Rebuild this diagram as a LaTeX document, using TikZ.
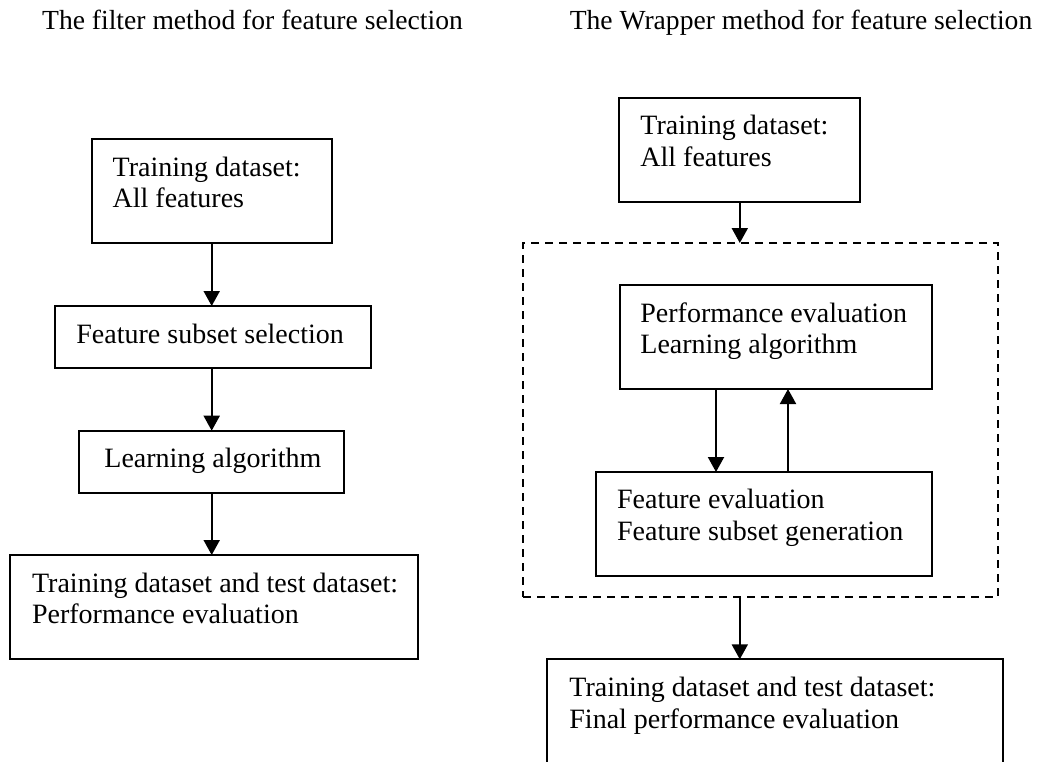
\documentclass[tikz,border=0pt]{standalone}
\usepackage{fontspec}
\setmainfont{Liberation Serif}
\usetikzlibrary{arrows.meta}

% strut that fixes the height of a text block's first line
\newcommand\firstline{\rule{0pt}{12pt}}

\tikzset{
  txtfont/.style={font=\fontsize{14pt}{15.65pt}\selectfont},
  box/.style 2 args={draw, line width=1pt, rectangle, inner sep=0pt, outer sep=0pt,
    anchor=north west, minimum width=#1*0.5pt, minimum height=#2*0.5pt},
  groupbox/.style 2 args={box={#1}{#2}, dash pattern=on 4pt off 3pt},
  boxtext/.style={txtfont, inner sep=0pt, anchor=north west, align=left},
  title/.style={font=\fontsize{13.8pt}{15.65pt}\selectfont, inner sep=0pt, anchor=base},
  arr/.style={line width=1pt, -{Triangle[length=7.5pt, width=8pt]}},
}

\begin{document}
\begin{tikzpicture}[x=0.5pt, y=-0.5pt]
\useasboundingbox (0,0) rectangle (1039,761);
\clip (0,0) rectangle (1039,761);

% headings
\node[title] (t1) at (252.5,29.5) {The filter method for feature selection};
\node[title] (t2) at (801,29.5) {The Wrapper method for feature selection};

% ---- filter method ----
\node[box={240}{104}] (L1) at (91.7,139.3) {};
\node[boxtext] (L1t) at ([shift={(20.6,12.8)}]L1.north west) {\firstline Training dataset:\\All features};

\node[box={316}{62}] (L2) at (55,306) {};
\node[boxtext] (L2t) at ([shift={(21,12.8)}]L2.north west) {\firstline Feature subset selection};

\node[box={265}{62}] (L3) at (79,430.7) {};
\node[boxtext] (L3t) at ([shift={(25,12.8)}]L3.north west) {\firstline Learning algorithm};

\node[box={408}{104}] (L4) at (10,555) {};
\node[boxtext] (L4t) at ([shift={(21.7,13.2)}]L4.north west) {\firstline Training dataset and test dataset:\\Performance evaluation};

\draw[arr] (L1.south) -- (L1.south |- L2.north);
\draw[arr] (L1.south |- L2.south) -- (L1.south |- L3.north);
\draw[arr] (L1.south |- L3.south) -- (L1.south |- L4.north);

% ---- wrapper method ----
\node[box={241}{104}] (R1) at (619.3,97.7) {};
\node[boxtext] (R1t) at ([shift={(20.7,12.8)}]R1.north west) {\firstline Training dataset:\\All features};

\node[groupbox={475}{353.7}] (W) at (523.3,243) {};

\node[box={312}{104}] (A) at (620,285) {};
\node[boxtext] (At) at ([shift={(20,12.7)}]A.north west) {\firstline Performance evaluation\\Learning algorithm};

\node[box={336}{104}] (B) at (596,472) {};
\node[boxtext] (Bt) at ([shift={(20.7,12.5)}]B.north west) {\firstline Feature evaluation\\Feature subset generation};

\node[box={456}{140}] (F) at (547,659.3) {};
\node[boxtext] (Ft) at ([shift={(22,13.2)}]F.north west) {\firstline Training dataset and test dataset:\\Final performance evaluation};

\coordinate (down) at (716,0);
\coordinate (up) at (788,0);

\draw[arr] (R1.south) -- (R1.south |- W.north);
\draw[arr] (down |- A.south) -- (down |- B.north);
\draw[arr] (up |- B.north) -- (up |- A.south);
\draw[arr] (R1.south |- W.south) -- (R1.south |- F.north);
\end{tikzpicture}
\end{document}
